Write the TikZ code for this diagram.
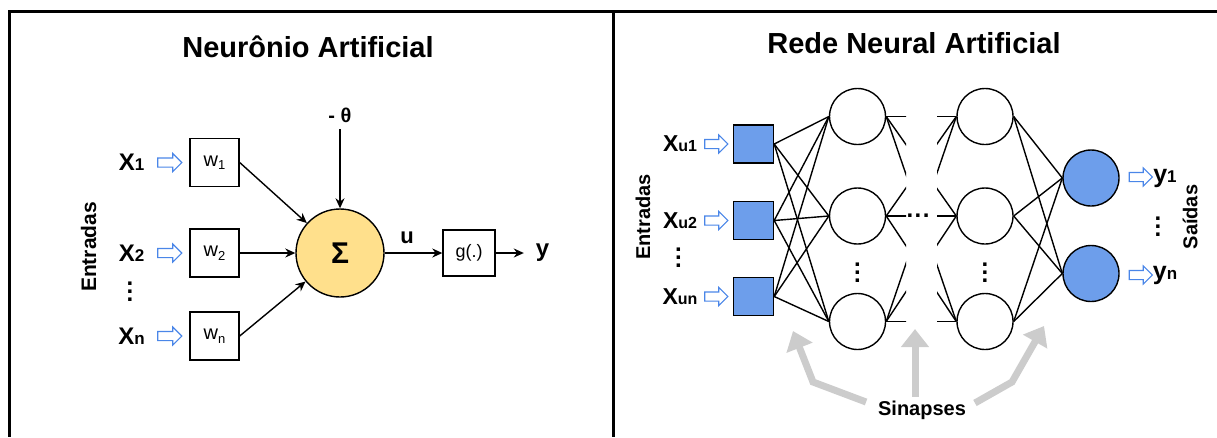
\documentclass[tikz,border=0pt]{standalone}
\usepackage{fontspec}
\setmainfont{Liberation Sans}
\usepackage{tikz}
\usetikzlibrary{arrows.meta,shapes.arrows}

\definecolor{sumfill}{HTML}{FFE08C}
\definecolor{unitfill}{HTML}{6D9EEB}
\definecolor{inblue}{HTML}{4A86E8}
\definecolor{syngray}{HTML}{CCCCCC}

\newcommand{\fs}[1]{\fontsize{#1}{#1}\selectfont}
\newcommand{\xin}[4]{{\fs{#1}#2}{\fs{#3}#4}}
\newcommand{\wsub}[1]{\raisebox{-3.5pt}{\fs{13}#1}}
\newcommand{\vdts}{\vbox{\baselineskip=8pt\lineskiplimit=0pt\hbox{.}\hbox{.}\hbox{.}}}
\newcommand{\hdts}{\hbox{.\kern1.5pt.\kern1.5pt.}}

\begin{document}
\begin{tikzpicture}[x=1pt,y=-1pt,line width=1.4pt,
  >={Stealth[length=10pt,width=9pt]},
  ttl/.style={font=\bfseries\fs{29}},
  lbl/.style={font=\bfseries\fs{20}},
  wbox/.style={draw,minimum width=49pt,minimum height=48pt,font=\fs{20}},
  inarr/.style={single arrow,draw=inblue,fill=white,line width=1.1pt,
    minimum height=24pt,inner sep=0pt,inner ysep=4pt,single arrow head extend=4.5pt},
  hid/.style={circle,draw,fill=white,minimum size=56pt,inner sep=0pt},
  outn/.style={circle,draw,fill=unitfill,minimum size=56pt,inner sep=0pt},
  inn/.style={draw,fill=unitfill,minimum width=40pt,minimum height=38pt},
  syn/.style={draw=syngray,line width=7pt,-{Triangle[length=18pt,width=27pt]}}
]
\useasboundingbox (0,0) rectangle (1217,437);
% frame
\draw[line width=3pt] (1217,11.5) -- (9,11.5) -- (9,437);
\draw[line width=3pt] (613,11.5) -- (613,437);

% neuronio artificial
\node[ttl] (t1) at (308,47) {Neurônio Artificial};
\node[circle,draw,fill=sumfill,minimum size=88pt,inner sep=0pt,font=\bfseries\fs{30}] (sum) at (340,253) {Σ};
\node[font=\bfseries\fs{20}] (theta) at (340,115) {- θ};
\node[draw,minimum width=52pt,minimum height=46pt,font=\fs{18}] (g) at (469,253) {g(.)};
\node[font=\bfseries\fs{22}] (u) at (407,238) {u};
\node[font=\bfseries\fs{24}] (y) at (542.5,253) {y};
\foreach \n/\yy/\s in {1/162.5/1,2/253/2,3/336/n}{
  \node[wbox] (w\n) at (214.5,\yy) {w\wsub{\s}};
  \node[inarr] (a\n) at (167.5,\yy) {};
  \node[font=\bfseries] (x\n) at (131.5,\yy) {\xin{24}{X}{17}{\s}};
  \draw[->] (w\n.east) -- (sum);
}
\node[font=\bfseries\fs{24}] (d1) at (130,292) {\vdts};
\node[font=\bfseries\fs{21},rotate=90] (e1) at (88.5,247) {Entradas};
\path[->]
  (theta) edge[shorten <=3pt] (sum)
  (sum) edge (g)
  (g) edge[shorten >=8pt] (y);

% rede neural artificial
\node[ttl] (t2) at (914,43) {Rede Neural Artificial};
\foreach \n/\yy/\s in {1/144/u1,2/220.5/u2,3/296.5/un}{
  \node[inn] (s\n) at (753.5,\yy) {};
  \node[inarr,minimum height=23pt] (b\n) at (714,\yy) {};
  \node[font=\bfseries] (xu\n) at (680,\yy) {\xin{23}{X}{16}{\s}};
}
\foreach \n/\yy in {1/116.5,2/216,3/321.5}{
  \node[hid] (h1\n) at (857.5,\yy) {};
  \node[hid] (h2\n) at (985,\yy) {};
}
\node[outn] (o1) at (1091,178) {};
\node[outn] (o2) at (1091,273.5) {};
\node[inarr,minimum height=23pt] (c1) at (1138.5,177) {};
\node[inarr,minimum height=23pt] (c2) at (1138.5,275) {};
\node[font=\bfseries] (y1) at (1165,178) {\xin{25}{y}{17}{1}};
\node[font=\bfseries] (yn) at (1165,275) {\xin{25}{y}{17}{n}};

\foreach \i in {1,2,3}
  \foreach \j in {1,2,3}
    \draw (s\i.east) -- (h1\j.west);
\begin{scope}
  \clip (880,80) rectangle (906,360) (937,80) rectangle (965,360);
  \foreach \i in {1,2,3}
    \foreach \j in {1,2,3}
      \draw (h1\i.east) -- (h2\j.west);
\end{scope}
\foreach \i in {1,2,3}
  \foreach \j in {1,2}
    \draw (h2\i.east) -- (o\j.west);

\node[font=\bfseries\fs{24}] (d2) at (678.5,258) {\vdts};
\node[font=\bfseries\fs{24}] (d3) at (857.5,273) {\vdts};
\node[font=\bfseries\fs{24}] (d4) at (985,273) {\vdts};
\node[font=\bfseries\fs{24}] (d5) at (1158,227) {\vdts};
\node[font=\bfseries\fs{24}] (d6) at (918,216) {\hdts};
\node[lbl,rotate=90] (e2) at (643,217) {Entradas};
\node[lbl,rotate=90] (sa) at (1190,217) {Saídas};

% sinapses
\node[lbl] (sy) at (922,410) {Sinapses};
\coordinate (sl) at (793,331);
\coordinate (sm) at (915,329);
\coordinate (sr) at (1044,326);
\draw[syn] ([shift={(-8,-8)}]sy.west) -- (813,382) -- (sl);
\draw[syn] ([xshift=-7pt]sy.north) -- (sm);
\draw[syn] ([shift={(5,-7)}]sy.east) -- (1012,382) -- (sr);
\end{tikzpicture}
\end{document}
